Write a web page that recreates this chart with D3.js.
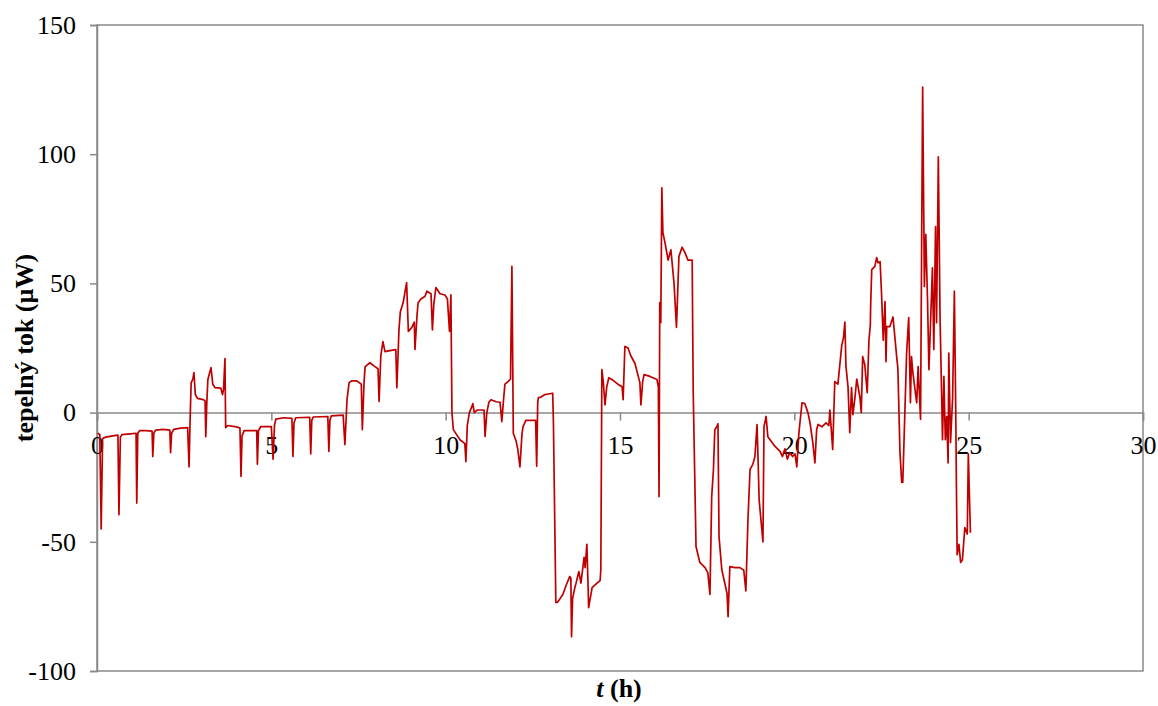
<!DOCTYPE html>
<html>
<head>
<meta charset="utf-8">
<script src="https://cdn.jsdelivr.net/npm/d3@7"></script>
<style>
  html, body { margin: 0; padding: 0; background: #ffffff; }
  svg { display: block; }
  .tick text { font-family: "Liberation Serif", "Times New Roman", serif; font-size: 26px; fill: #000; }
</style>
</head>
<body>
<svg id="chart" width="1158" height="706"></svg>
<script>
// Measurement: time (h) and heat flow (µW)
const hours = [
  0.02, 0.08, 0.12, 0.16, 0.25, 0.45, 0.60, 0.63, 0.67, 0.72, 0.95, 1.12, 1.14, 1.17, 1.22, 1.40,
  1.58, 1.60, 1.63, 1.68, 1.90, 2.09, 2.11, 2.14, 2.20, 2.40, 2.60, 2.64, 2.67, 2.70, 2.75, 2.78,
  2.82, 2.88, 3.05, 3.10, 3.12, 3.15, 3.18, 3.27, 3.32, 3.38, 3.55, 3.60, 3.63, 3.67, 3.69, 3.75,
  4.00, 4.10, 4.13, 4.16, 4.22, 4.40, 4.58, 4.60, 4.63, 4.70, 5.00, 5.05, 5.09, 5.13, 5.35, 5.59,
  5.62, 5.65, 5.70, 6.10, 6.13, 6.16, 6.20, 6.62, 6.65, 6.68, 6.72, 7.06, 7.11, 7.17, 7.23, 7.31,
  7.45, 7.58, 7.61, 7.66, 7.69, 7.83, 7.95, 8.06, 8.09, 8.14, 8.20, 8.26, 8.40, 8.57, 8.60, 8.66,
  8.70, 8.78, 8.88, 8.93, 9.03, 9.10, 9.12, 9.18, 9.21, 9.29, 9.41, 9.46, 9.58, 9.62, 9.66, 9.72,
  9.84, 9.98, 10.05, 10.11, 10.15, 10.18, 10.22, 10.41, 10.55, 10.58, 10.62, 10.68, 10.75, 10.78, 10.82, 10.90,
  11.10, 11.13, 11.18, 11.24, 11.30, 11.45, 11.56, 11.61, 11.66, 11.70, 11.79, 11.86, 11.90, 11.94, 12.02, 12.07,
  12.13, 12.19, 12.22, 12.30, 12.58, 12.61, 12.64, 12.66, 12.73, 12.85, 13.07, 13.09, 13.16, 13.20, 13.28, 13.36,
  13.45, 13.56, 13.59, 13.61, 13.64, 13.70, 13.74, 13.82, 13.88, 13.97, 14.00, 14.05, 14.08, 14.10, 14.20, 14.34,
  14.43, 14.45, 14.48, 14.52, 14.57, 14.62, 14.68, 14.80, 14.94, 15.06, 15.09, 15.14, 15.23, 15.31, 15.43, 15.57,
  15.60, 15.65, 15.69, 15.86, 16.06, 16.10, 16.12, 16.14, 16.17, 16.20, 16.23, 16.29, 16.38, 16.46, 16.55, 16.62,
  16.69, 16.78, 16.86, 16.95, 17.07, 17.09, 17.10, 17.18, 17.29, 17.44, 17.52, 17.58, 17.63, 17.68, 17.72, 17.78,
  17.81, 17.84, 17.92, 18.07, 18.10, 18.15, 18.30, 18.44, 18.55, 18.61, 18.67, 18.73, 18.81, 18.87, 18.93, 18.96,
  18.99, 19.10, 19.13, 19.19, 19.24, 19.33, 19.44, 19.59, 19.66, 19.73, 19.80, 19.87, 19.95, 20.02, 20.07, 20.13,
  20.22, 20.30, 20.39, 20.45, 20.53, 20.59, 20.64, 20.68, 20.79, 20.91, 20.99, 21.02, 21.10, 21.16, 21.25, 21.36,
  21.41, 21.45, 21.48, 21.54, 21.59, 21.64, 21.68, 21.74, 21.79, 21.88, 21.92, 21.96, 22.02, 22.09, 22.14, 22.18,
  22.19, 22.22, 22.31, 22.36, 22.40, 22.46, 22.50, 22.55, 22.60, 22.63, 22.65, 22.74, 22.83, 22.94, 22.97, 23.03,
  23.08, 23.11, 23.17, 23.22, 23.28, 23.33, 23.36, 23.40, 23.46, 23.51, 23.55, 23.62, 23.68, 23.73, 23.77, 23.82,
  23.86, 23.91, 23.96, 24.00, 24.05, 24.08, 24.13, 24.18, 24.22, 24.25, 24.29, 24.33, 24.37, 24.41, 24.43, 24.48,
  24.54, 24.59, 24.63, 24.65, 24.67, 24.72, 24.77, 24.82, 24.89, 24.96, 24.99, 25.05
];
const heatFlow = [
  -8, -8.5, -45, -10, -9.5, -9, -8.7, -39.5, -9.5, -8.5, -8.2, -8, -35, -8, -7, -7,
  -7.2, -17, -8, -6.8, -6.5, -6.8, -15.5, -8, -6.5, -6, -5.8, -21, -3, 11.5, 13, 15.5,
  7, 5.5, 5, 4.5, -9.3, 4, 12.8, 17.4, 11, 9.7, 9.5, 7, 9, 20.9, -5.8, -5,
  -5.5, -6, -24.7, -9, -7, -7, -7, -20, -7, -5.4, -5.4, -18, -5, -2.5, -2, -2.2,
  -17, -4, -2, -1.8, -16, -3, -1.7, -1.5, -15, -3, -1.3, -1, -12.4, 5, 11.6, 12.3,
  12.3, 11, -6.6, 12, 17.8, 19.3, 18, 17, 4.3, 22, 27.5, 23.6, 24, 24.4, 9.6, 32,
  39, 42.5, 50.3, 31.4, 33, 35, 24.4, 38, 42.5, 44, 45, 47, 46, 32, 42, 48.4,
  46, 45.5, 44, 31.4, 45.6, 0, -6.6, -10.5, -12, -19, -5, 0, 2.3, 3.5, 0, 1,
  1, -9.2, 0, 4, 5, 4.2, 4, -3.5, 5, 11, 12, 13, 56.6, -8, -11, -14.3,
  -21, -8, -5.4, -3, -3, -20.8, 4, 5.8, 6, 7, 7.5, -3.5, -73.5, -73.5, -72, -70.4,
  -67, -63.4, -64, -86.7, -72, -68, -66, -61.5, -66, -56, -60, -51, -65, -75.5, -67.7, -66,
  -65, -60.7, 16.6, 12, 3, 10, 13.5, 12.5, 11, 10, 5, 25.6, 25, 22, 19, 11.6,
  3, 12, 14.7, 14, 12.8, 10, -32.5, 42.6, 34.8, 87, 69.7, 65.8, 59, 63, 50, 33,
  60.4, 64, 62, 59, 59, 24.4, 8, -51.8, -58, -60, -62, -70.4, -32.5, -22, -6.6, -5.4,
  -4.3, -48, -60.8, -70, -79, -59.6, -60, -60, -61, -69, -41.4, -22, -20, -17, -4.6, -18,
  -33.7, -50, -5.4, -1.5, -9.3, -11, -13, -15, -17, -14, -18, -15.5, -17, -16, -21, -8,
  3.8, 3.5, 0, -4, -11.6, -19.5, -6.6, -4.6, -5.5, -4, -5, 1, -14.3, 12, 11, 26,
  29, 35, 18, 10, -7.8, 9.7, -0.8, 6, 13, 6, 0, 21.7, 18.5, 7.7, 28, 34,
  42, 55.3, 56.6, 60, 58, 58.4, 46.4, 28, 43, 19.7, 33.3, 33.3, 37, 21, 17, -15.5,
  -27, -27, 0, 23, 36.8, 3.8, 21.7, 15.5, 9, 3.8, 17.8, -2.6, 126, 48.8, 69, 43.7,
  16.6, 36, 56, 24.4, 72, 34.8, 99, 36, 10, -10.5, 14, -10.5, -1.5, -19.5, 23, -11.6,
  6, 47, 0, -30, -55, -51, -58, -57, -44.5, -47, -16, -46.5
];

const xTicks = [0, 5, 10, 15, 20, 25, 30];
const yTicks = [-100, -50, 0, 50, 100, 150];
const yTitle = "tepelný tok (µW)";

const svg = d3.select("#chart");
const plot = { left: 97, right: 1143, top: 25, bottom: 671 };
const axisColor = "#898989";
// Plain hyphen for negative numbers
const fmt = d => String(d);

const x = d3.scaleLinear().domain([0, 30]).range([plot.left, plot.right]);
const y = d3.scaleLinear().domain([-100, 150]).range([plot.bottom, plot.top]);

// Plot-area frame
svg.append("rect")
  .attr("x", plot.left).attr("y", plot.top)
  .attr("width", plot.right - plot.left).attr("height", plot.bottom - plot.top)
  .attr("fill", "none").attr("stroke", axisColor).attr("stroke-width", 1.5);

// Value axis
const yAxis = svg.append("g")
  .attr("transform", `translate(${plot.left},0)`)
  .call(d3.axisLeft(y).tickValues(yTicks).tickSize(7).tickPadding(14).tickFormat(fmt));
yAxis.select(".domain").attr("stroke", axisColor).attr("stroke-width", 1.5);
yAxis.selectAll(".tick line").attr("stroke", axisColor).attr("stroke-width", 1.5);

// Time axis crossing at zero
const xAxis = svg.append("g")
  .attr("transform", `translate(0,${y(0)})`)
  .call(d3.axisBottom(x).tickValues(xTicks).tickSize(8).tickPadding(15).tickFormat(fmt));
xAxis.select(".domain").attr("stroke", axisColor).attr("stroke-width", 1.5);
xAxis.selectAll(".tick line").attr("stroke", axisColor).attr("stroke-width", 1.5);

// Heat-flow trace
const line = d3.line()
  .x((d, i) => x(hours[i]))
  .y(d => y(d));
svg.append("path")
  .datum(heatFlow)
  .attr("d", line)
  .attr("fill", "none")
  .attr("stroke", "#C00000")
  .attr("stroke-width", 1.7)
  .attr("stroke-linejoin", "round");

// Axis titles
svg.append("text")
  .attr("transform", `translate(33,${(plot.top + plot.bottom) / 2}) rotate(-90)`)
  .attr("text-anchor", "middle")
  .attr("font-family", "Liberation Serif, Times New Roman, serif")
  .attr("font-size", 26).attr("font-weight", "bold")
  .text(yTitle);

const xt = svg.append("text")
  .attr("x", 619).attr("y", 697)
  .attr("text-anchor", "middle")
  .attr("font-family", "Liberation Serif, Times New Roman, serif")
  .attr("font-size", 26).attr("font-weight", "bold");
xt.append("tspan").attr("font-style", "italic").text("t");
xt.append("tspan").text(" (h)");
</script>
</body>
</html>
